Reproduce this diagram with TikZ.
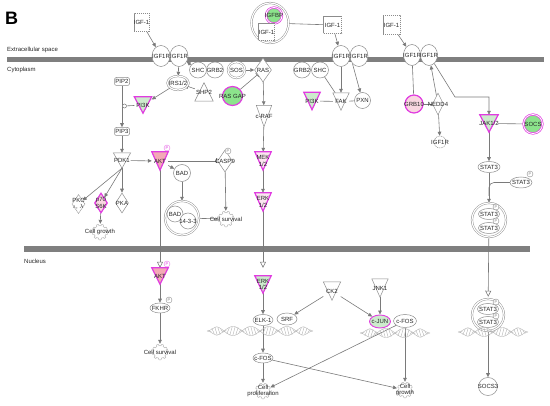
\documentclass[tikz,border=0pt]{standalone}
\usepackage{fontspec}
\setmainfont{Liberation Sans}
\usetikzlibrary{shapes.geometric,arrows.meta,calc}
\definecolor{ln}{HTML}{7A7A7A}
\definecolor{nd}{HTML}{8C8C8C}
\definecolor{mag}{HTML}{E03CE0}
\definecolor{grn}{HTML}{8CE38C}
\definecolor{pgrn}{HTML}{CDEBCD}
\definecolor{pnk}{HTML}{F3A9B6}
\definecolor{ppnk}{HTML}{F9D6E0}
\definecolor{wpnk}{HTML}{FBE6F0}
\definecolor{barc}{HTML}{7F7F7F}
\definecolor{txt}{HTML}{262626}
\pgfdeclarelayer{bg}
\pgfsetlayers{bg,main}
\newcommand\bnode[4]{\node[#2] (#1) at #3 {}; \node[lbl] (#1-t) at #3 {#4};}
\newcommand\pmark[3][]{\node[pc,#1] (#2) at #3 {P};}
\tikzset{
 lbl/.style={font=\fontsize{6}{6.3}\selectfont, inner sep=0, align=center, text=txt},
 shp/.style={draw=nd, fill=white, line width=0.5pt},
 mg/.style={draw=mag, line width=1.2pt},
 ell/.style={ellipse, shp, inner sep=0},
 cir/.style={circle, shp, inner sep=0},
 dbl/.style={double=white, double distance=1.2pt, line width=0.45pt},
 dia/.style={diamond, shp, inner sep=0},
 dbox/.style={rectangle, draw=nd, fill=white, inner sep=0, line width=0.5pt, dash pattern=on 1.2pt off 0.8pt},
 tdn/.style={rectangle, inner sep=0, append after command={\pgfextra{\path[shp,#1] (\tikzlastnode.north west) -- (\tikzlastnode.north east) -- (\tikzlastnode.south) -- cycle;}}},
 tdn/.default={},
 tup/.style={rectangle, inner sep=0, append after command={\pgfextra{\path[shp,#1] (\tikzlastnode.south west) -- (\tikzlastnode.south east) -- (\tikzlastnode.north) -- cycle;}}},
 tup/.default={},
 gear/.style={circle, inner sep=0, minimum size=16, append after command={\pgfextra{\draw[draw=gray!55, fill=white, line width=0.5pt, shift={(\tikzlastnode.center)}] plot[domain=0:360, samples=121] (\x:{6.3+1.5*(sin(9*\x)>0)}) -- cycle;}}},
 pc/.style={circle, draw=nd, fill=white, inner sep=0, minimum size=6, line width=0.4pt, font=\fontsize{4}{4}\selectfont, text=nd},
 pcm/.style={draw=mag!70, text=mag},
 cn/.style={draw=ln, line width=0.6pt},
 arr/.style={cn, -{Triangle[length=4pt,width=3.6pt]}},
 inh/.style={cn, -{Bar[width=5pt,line width=0.8pt]}},
 trn/.style={cn, -{Triangle[open,length=6pt,width=6pt,fill=white]}},
 hx/.style={draw=gray!60, line width=0.4pt},
 pics/dna/.style={code={
   \draw[hx] plot[domain=-#1:#1, samples=100] (\x,{4.5*sin(10*\x)*min(1,(#1-abs(\x))/10)});
   \draw[hx] plot[domain=-#1:#1, samples=100] (\x,{-4.5*sin(10*\x)*min(1,(#1-abs(\x))/10)});
   \pgfmathtruncatemacro\nn{2*#1/3-1}
   \foreach \i in {1,...,\nn}{
     \pgfmathsetmacro\xx{-#1+3*\i}
     \pgfmathsetmacro\yy{4.5*sin(10*\xx)*min(1,(#1-abs(\xx))/10)}
     \pgfmathsetmacro\yn{-(\yy)}
     \draw[hx] (\xx-1.2,\yy) -- (\xx+1.2,\yn);
   }
 }}
}
\begin{document}
\begin{tikzpicture}[x=1pt,y=-1pt]
\useasboundingbox (0,0) rectangle (550,406);
\begin{pgfonlayer}{bg}
\fill[barc] (7,57) rectangle (544,62.5);
\fill[barc] (24,246) rectangle (530,252);
\end{pgfonlayer}
\node[font=\bfseries\fontsize{18}{18}\selectfont, text=black, inner sep=0] (tB) at (11.5,18.5) {B};
\node[lbl, anchor=west] (tEx) at (7,50) {Extracellular space};
\node[lbl, anchor=west] (tCy) at (7,70) {Cytoplasm};
\node[lbl, anchor=west] (tNu) at (24,261) {Nucleus};

% left receptor
\bnode{igfA}{dbox, minimum width=15, minimum height=18}{(141.5,22.5)}{IGF-1}
\bnode{rA1}{ell, minimum width=18, minimum height=21}{(161,56)}{IGF1R}
\bnode{rA2}{ell, minimum width=18, minimum height=21}{(179,56)}{IGF1R}
\bnode{irs}{ell, dbl, minimum width=21, minimum height=14}{(178,83)}{IRS1/2}
\bnode{shp2}{tup, minimum width=18, minimum height=18}{(204,92)}{SHP2}
\bnode{pi3kA}{tdn={mg,fill=pgrn}, minimum width=17, minimum height=16}{(143,105)}{PI3K}
\bnode{pip2}{rectangle, rounded corners=2, shp, minimum width=15, minimum height=8}{(122,81.5)}{PIP2}
\bnode{pip3}{rectangle, rounded corners=2, shp, minimum width=15, minimum height=8}{(122,131.5)}{PIP3}
\node[circle, draw=ln, fill=white, minimum size=4, inner sep=0, line width=0.5pt] (cat1) at (124.5,106) {};
\bnode{pdk1}{tdn, minimum width=17, minimum height=15}{(122,160.5)}{PDK1}
\bnode{pkc}{dia, dash pattern=on 1pt off 0.6pt, minimum width=13, minimum height=19}{(78.5,204)}{PKC\\$\iota$, $\lambda$}
\bnode{p70}{dia, mg, fill=ppnk, minimum width=13, minimum height=20}{(101,203)}{p70\\S6K}
\bnode{pka}{dia, minimum width=13, minimum height=20}{(122,203)}{PKA}
\bnode{cg1}{gear}{(100,232)}{Cell growth}
\bnode{aktA}{tdn={mg,fill=pnk}, minimum width=16, minimum height=18}{(160,161)}{AKT}
\pmark[pcm]{aktAP}{(167,148)}
\bnode{badA}{cir, minimum size=17}{(182,173)}{BAD}
\bnode{cplx}{cir, dbl, minimum size=34}{(182,218)}{}
\bnode{badB}{cir, minimum size=16}{(175,214)}{BAD}
\bnode{c1433}{cir, minimum size=16}{(188,221)}{14-3-3}
\bnode{casp9}{dia, minimum width=15, minimum height=22}{(225,161)}{CASP9}
\pmark{casp9P}{(228,151)}
\bnode{cs1}{gear}{(226,219)}{Cell survival}
\bnode{aktB}{tdn={mg,fill=pnk}, minimum width=16, minimum height=16}{(160,276)}{AKT}
\pmark[pcm]{aktBP}{(167,264)}
\bnode{fkhr}{ell, minimum width=20, minimum height=10}{(160,308)}{FKHR}
\pmark{fkhrP}{(169,300)}
\bnode{cs2}{gear}{(160,352)}{Cell survival}

% RAS pathway
\bnode{shcA}{ell, minimum width=17, minimum height=16}{(198,70)}{SHC}
\bnode{grb2A}{ell, minimum width=17, minimum height=16}{(215,70)}{GRB2}
\bnode{sos}{ell, dbl, minimum width=17, minimum height=16}{(236.5,70)}{SOS}
\bnode{ras}{dia, minimum width=17, minimum height=24}{(263,70)}{RAS}
\bnode{rasgap}{ell, mg, fill=grn, minimum width=20, minimum height=19}{(232.5,96)}{RAS GAP}
\bnode{craf}{tdn, minimum width=15, minimum height=21}{(264,116)}{c-RAF}
\bnode{mek}{tdn={mg,fill=wpnk}, minimum width=16, minimum height=18}{(263,161)}{MEK\\1/2}
\bnode{erkA}{tdn={mg,fill=wpnk}, minimum width=16, minimum height=18}{(263,202)}{ERK\\1/2}
\bnode{erkB}{tdn={mg,fill=pgrn}, minimum width=16, minimum height=17}{(263,284.5)}{ERK\\1/2}
\bnode{elk}{ell, minimum width=20, minimum height=11}{(263,320)}{ELK-1}
\bnode{srf}{ell, minimum width=20, minimum height=12}{(287,319)}{SRF}
\bnode{cfosA}{ell, minimum width=20, minimum height=10}{(263,358)}{c-FOS}
\bnode{cp}{gear}{(263,391)}{Cell\\proliferation}

% IGFBP / middle receptor
\bnode{igfbpc}{ell, dbl, minimum width=37, minimum height=40}{(270,23)}{}
\bnode{igfbp}{cir, draw=mag, fill=grn, line width=0.7pt, double=white, double distance=0.8pt, minimum size=16}{(274,15.5)}{IGFBP}
\bnode{igfIn}{dbox, minimum width=16, minimum height=17}{(266.5,32)}{IGF-1}
\bnode{igfB}{dbox, minimum width=18, minimum height=17}{(332.5,25)}{IGF-1}
\bnode{rB1}{ell, minimum width=18, minimum height=21}{(341,56)}{IGF1R}
\bnode{rB2}{ell, minimum width=18, minimum height=21}{(359,56)}{IGF1R}
\bnode{grb2B}{ell, minimum width=17, minimum height=16}{(302,70)}{GRB2}
\bnode{shcB}{ell, minimum width=17, minimum height=16}{(320,70)}{SHC}
\bnode{pi3kB}{tdn={mg,fill=pgrn}, minimum width=16, minimum height=17}{(312,101)}{PI3K}
\bnode{fak}{tdn, minimum width=16, minimum height=17}{(341,101.5)}{FAK}
\bnode{pxn}{cir, minimum size=16}{(362.5,100.5)}{PXN}

% right receptor
\bnode{igfC}{dbox, minimum width=17, minimum height=19}{(391.5,25)}{IGF-1}
\bnode{rC1}{ell, minimum width=17, minimum height=21}{(412,55)}{IGF1R}
\bnode{rC2}{ell, minimum width=17, minimum height=21}{(429,55)}{IGF1R}
\bnode{grb10}{cir, mg, fill=ppnk, minimum size=18}{(414,104)}{GRB10}
\bnode{nedd4}{dia, minimum width=11, minimum height=22}{(438,104)}{NEDD4}
\bnode{igfD}{cir, dash pattern=on 1pt off 0.8pt, minimum size=12}{(440,142)}{IGF1R}
\bnode{jak}{tdn={mg,fill=pgrn}, minimum width=18, minimum height=17}{(489,123.5)}{JAK1/2}
\bnode{socs}{cir, draw=mag, fill=grn, line width=0.7pt, double=white, double distance=0.8pt, minimum size=19}{(533,124)}{SOCS}
\bnode{st3a}{ell, minimum width=22, minimum height=11}{(489,167)}{STAT3}
\bnode{st3p}{ell, minimum width=22, minimum height=11}{(521,182.5)}{STAT3}
\pmark{st3pP}{(530,174)}
\bnode{dim1}{cir, dbl, minimum size=34}{(489,220)}{}
\bnode{d1a}{ell, minimum width=21, minimum height=11}{(489,214)}{STAT3}
\bnode{d1b}{ell, minimum width=21, minimum height=11}{(489,228)}{STAT3}
\pmark{d1aP}{(496,207)}
\pmark{d1bP}{(496,221)}
\bnode{dim2}{cir, dbl, minimum size=32}{(488,315)}{}
\bnode{d2a}{ell, minimum width=21, minimum height=11}{(488,309)}{STAT3}
\bnode{d2b}{ell, minimum width=21, minimum height=11}{(488,322)}{STAT3}
\pmark{d2aP}{(496,302)}
\pmark{d2bP}{(496,316)}
\bnode{socs3}{ell, minimum width=19, minimum height=18}{(488,386.5)}{SOCS3}

% nucleus middle
\bnode{ck2}{tdn, minimum width=17, minimum height=18}{(332,291)}{CK2}
\bnode{jnk1}{tdn, minimum width=16, minimum height=18}{(380,288)}{JNK1}
\bnode{cjun}{ell, draw=mag, line width=0.9pt, fill=pgrn, minimum width=21, minimum height=13}{(380,321.5)}{c-JUN}
\bnode{cfosB}{ell, minimum width=23, minimum height=13}{(405,321)}{c-FOS}
\bnode{cg2}{gear}{(405,390)}{Cell\\growth}

% DNA helices
\pic at (260,331) {dna=53};
\pic at (395,333) {dna=35};
\pic at (493,332) {dna=35};

\coordinate (jb) at (455,97);
\begin{pgfonlayer}{bg}
\draw[arr] (igfA) -- (rA1);
\draw[arr] (rA2) -- (irs);
\draw[inh] (shp2) -- (irs);
\draw[arr] (irs) -- (pi3kA);
\draw[arr] (pip2) -- (pip3);
\draw[cn] (cat1) -- (pi3kA);
\draw[arr] (pip3) -- (pdk1);
\draw[arr] (pdk1.south) -- (pkc);
\draw[arr] (pdk1.south) -- (p70);
\draw[arr] (pdk1.south) -- (pka);
\draw[arr] (p70) -- (cg1);
\draw[arr] (pdk1) -- (aktA);
\draw[inh] (aktA) -- (casp9);
\draw[arr] (aktA) -- (badA);
\draw[arr] (badA) -- (cplx);
\draw[cn] (cplx) -- (cs1);
\draw[arr] (casp9) -- (cs1);
\draw[trn] (aktA.south) -- (aktB.north);
\draw[arr] (aktB) -- (fkhr);
\draw[arr] (fkhr) -- (cs2);
\draw[arr] (shcA) -- (rA2);
\draw[arr] (sos) -- (ras);
\draw[inh] (rasgap) -- (ras);
\draw[arr] (ras) -- (craf);
\draw[arr] (craf) -- (mek);
\draw[arr] (mek) -- (erkA);
\draw[trn, shorten >=8pt] (erkA.south) -- (erkB.north);
\draw[arr] (erkB) -- (elk);
\draw[arr] (elk) -- (cfosA);
\draw[arr] (cfosA) -- (cp);
\draw[arr] (cfosA) -- (cg2);
\draw[arr] (cfosB) -- (cp);
\draw[arr] (cfosB) -- (cg2);
\draw[arr] (ck2) -- (srf);
\draw[arr] (ck2) -- (cjun);
\draw[arr] (jnk1) -- (cjun);
\draw[cn] (igfbpc) -- (igfB);
\draw[arr] (igfB) -- (rB1);
\draw[arr] (rB1) -- (fak);
\draw[arr] (rB2.south west) -- (pxn);
\draw[cn] (shcB) -- (fak);
\draw[cn] (pi3kB) -- (fak);
\draw[cn] (fak) -- (pxn);
\draw[arr] (igfC) -- (rC1);
\draw[cn] (rC1) -- (grb10);
\draw[cn] (grb10) -- (nedd4);
\draw[arr] (nedd4) -- (rC2);
\draw[arr] (nedd4) -- (igfD);
\draw[arr] (rC2) -- (jb) -| (jak);
\draw[cn] (jak) -- (socs);
\draw[arr] (jak) -- (st3a);
\draw[arr] (st3a) -- (dim1);
\draw[cn, rounded corners=5] (st3p) -- (489,182.5) -- (489,196);
\draw[trn, shorten >=2pt] (dim1) -- (dim2);
\draw[arr] (dim2) -- (socs3);
\end{pgfonlayer}
\end{tikzpicture}
\end{document}
